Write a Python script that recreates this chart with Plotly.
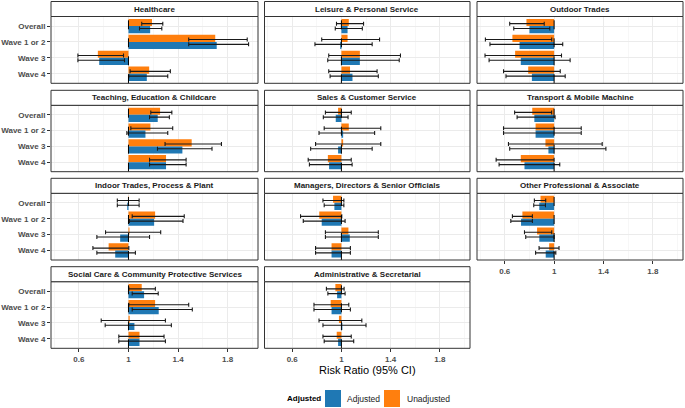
import plotly.graph_objects as go

categories = ["Overall", "Wave 1 or 2", "Wave 3", "Wave 4"]
panels = [
    "Healthcare", "Leisure & Personal Service", "Outdoor Trades",
    "Teaching, Education & Childcare", "Sales & Customer Service", "Transport & Mobile Machine",
    "Indoor Trades, Process & Plant", "Managers, Directors & Senior Officials", "Other Professional & Associate",
    "Social Care & Community Protective Services", "Administrative & Secretarial",
]

# Unadjusted risk ratios and 95% CI (per panel: Overall, Wave 1 or 2, Wave 3, Wave 4)
unadj_rr = [
    [1.19, 1.70, 0.753, 1.167], [1.06, 1.05, 1.15, 1.07], [0.776, 0.662, 0.684, 0.79],
    [1.255, 1.177, 1.51, 1.303], [0.973, 1.06, 1.014, 0.89], [0.823, 0.85, 0.93, 0.73],
    [0.997, 1.215, 1.008, 0.84], [0.932, 0.82, 1.057, 0.92], [0.89, 0.743, 0.862, 0.96],
    [1.107, 1.215, 1.01, 1.089], [0.951, 0.913, 0.98, 0.962],
]
unadj_lo = [
    [1.107, 1.486, 0.592, 1.013], [0.96, 0.84, 0.897, 0.897], [0.64, 0.443, 0.44, 0.59],
    [1.18, 1.019, 1.295, 1.17], [0.87, 0.86, 0.79, 0.73], [0.68, 0.59, 0.63, 0.53],
    [0.91, 1.03, 0.815, 0.713], [0.85, 0.668, 0.87, 0.79], [0.84, 0.662, 0.76, 0.878],
    [1.003, 1.003, 0.78, 0.922], [0.878, 0.777, 0.818, 0.85],
]
unadj_hi = [
    [1.277, 1.958, 0.96, 1.338], [1.18, 1.31, 1.48, 1.29], [0.92, 0.981, 1.06, 1.05],
    [1.35, 1.357, 1.75, 1.465], [1.08, 1.32, 1.32, 1.08], [0.98, 1.22, 1.39, 1.0],
    [1.086, 1.45, 1.26, 1.003], [1.02, 1.003, 1.30, 1.073], [0.932, 0.824, 0.981, 1.04],
    [1.217, 1.486, 1.298, 1.287], [1.022, 1.06, 1.166, 1.08],
]
# Adjusted risk ratios and 95% CI
adj_rr = [
    [1.175, 1.712, 0.764, 1.148], [1.05, 0.99, 1.15, 1.09], [0.80, 0.72, 0.73, 0.82],
    [1.236, 1.137, 1.435, 1.303], [0.954, 1.014, 0.973, 0.90], [0.84, 0.85, 0.954, 0.76],
    [0.99, 1.207, 0.933, 0.893], [0.943, 0.84, 1.068, 0.92], [0.88, 0.732, 0.88, 0.932],
    [1.126, 1.244, 1.048, 1.089], [0.965, 0.92, 1.008, 0.973],
]
adj_lo = [
    [1.089, 1.486, 0.592, 1.003], [0.95, 0.785, 0.889, 0.908], [0.673, 0.48, 0.473, 0.61],
    [1.17, 0.987, 1.234, 1.17], [0.853, 0.818, 0.75, 0.74], [0.70, 0.59, 0.64, 0.554],
    [0.91, 1.008, 0.745, 0.745], [0.86, 0.69, 0.87, 0.79], [0.835, 0.649, 0.77, 0.85],
    [1.03, 1.03, 0.812, 0.922], [0.89, 0.777, 0.85, 0.86],
]
adj_hi = [
    [1.269, 1.969, 0.968, 1.317], [1.17, 1.25, 1.47, 1.30], [0.965, 1.07, 1.13, 1.09],
    [1.33, 1.317, 1.674, 1.465], [1.054, 1.27, 1.25, 1.087], [1.008, 1.22, 1.42, 1.046],
    [1.086, 1.44, 1.17, 1.056], [1.02, 1.03, 1.30, 1.073], [0.93, 0.824, 1.0, 1.014],
    [1.24, 1.515, 1.346, 1.298], [1.03, 1.073, 1.20, 1.10],
]

x_tickvals = [0.6, 1, 1.4, 1.8]
x_ticktext = ["0.6", "1", "1.4", "1.8"]
x_minor = [0.4, 0.8, 1.2, 1.6, 2.0]

BLUE = "#1F78B4"
ORANGE = "#FF7F0E"
W, H = 685, 408
FONT = "Liberation Sans, Arial, sans-serif"

col_x = [(51, 258), (264.5, 470), (477, 683)]
row_y = [(16.5, 83.3), (105.3, 171.7), (193.3, 260), (281.7, 348.3)]
STRIP_H = 15


def px(x):
    return x / W


def py(y):
    return 1 - y / H


fig = go.Figure()
shapes = []
annotations = []
layout_axes = {}

pos = list(range(len(categories)))
for i, name in enumerate(panels):
    r, c = divmod(i, 3)
    k = i + 1
    xa = "x" if k == 1 else f"x{k}"
    ya = "y" if k == 1 else f"y{k}"
    x0, x1 = col_x[c]
    y0, y1 = row_y[r]

    bottom = i in (8, 9, 10)
    left = c == 0

    layout_axes["xaxis" if k == 1 else f"xaxis{k}"] = dict(
        domain=[px(x0), px(x1)], anchor=ya, range=[0.375, 2.045],
        tickvals=x_tickvals, ticktext=x_ticktext, showticklabels=bottom,
        ticks="outside" if bottom else "", ticklen=3, tickcolor="#333333", tickwidth=1,
        tickfont=dict(family=FONT, size=8, color="#4D4D4D", weight="bold"),
        showgrid=True, gridcolor="#EBEBEB", gridwidth=1,
        minor=dict(tickvals=x_minor, showgrid=True, gridcolor="#F2F2F2", gridwidth=0.6, ticks=""),
        zeroline=False, showline=False, fixedrange=True,
    )
    layout_axes["yaxis" if k == 1 else f"yaxis{k}"] = dict(
        domain=[py(y1), py(y0)], anchor=xa, range=[3.6, -0.6],
        tickvals=pos, ticktext=categories, showticklabels=left,
        ticks="outside" if left else "", ticklen=3, tickcolor="#333333", tickwidth=1,
        tickfont=dict(family=FONT, size=8, color="#4D4D4D", weight="bold"),
        showgrid=True, gridcolor="#EBEBEB", gridwidth=1,
        zeroline=False, showline=False, fixedrange=True,
    )

    ur, ul, uh = unadj_rr[i], unadj_lo[i], unadj_hi[i]
    ar, al, ah = adj_rr[i], adj_lo[i], adj_hi[i]

    fig.add_trace(go.Bar(
        orientation="h", y=[p - 0.225 for p in pos], x=[v - 1 for v in ur], base=1,
        width=0.45, marker=dict(color=ORANGE, line=dict(width=0)),
        name="Unadjusted", showlegend=False, xaxis=xa, yaxis=ya,
    ))
    fig.add_trace(go.Bar(
        orientation="h", y=[p + 0.225 for p in pos], x=[v - 1 for v in ar], base=1,
        width=0.45, marker=dict(color=BLUE, line=dict(width=0)),
        name="Adjusted", showlegend=False, xaxis=xa, yaxis=ya,
    ))
    fig.add_trace(go.Scatter(
        x=ur, y=[p - 0.15 for p in pos], mode="markers",
        marker=dict(size=1, color="rgba(0,0,0,0)"),
        error_x=dict(type="data", symmetric=False,
                     array=[h - v for h, v in zip(uh, ur)],
                     arrayminus=[v - l for v, l in zip(ur, ul)],
                     color="#1A1A1A", thickness=1.1, width=2),
        showlegend=False, xaxis=xa, yaxis=ya, hoverinfo="skip",
    ))
    fig.add_trace(go.Scatter(
        x=ar, y=[p + 0.15 for p in pos], mode="markers",
        marker=dict(size=1, color="rgba(0,0,0,0)"),
        error_x=dict(type="data", symmetric=False,
                     array=[h - v for h, v in zip(ah, ar)],
                     arrayminus=[v - l for v, l in zip(ar, al)],
                     color="#1A1A1A", thickness=1.1, width=2),
        showlegend=False, xaxis=xa, yaxis=ya, hoverinfo="skip",
    ))

    # dashed reference line at 1
    shapes.append(dict(type="line", xref=xa, yref="paper", x0=1, x1=1,
                       y0=py(y1), y1=py(y0), line=dict(color="black", width=1, dash="dash"),
                       layer="above"))
    # panel border
    shapes.append(dict(type="rect", xref="paper", yref="paper", x0=px(x0), x1=px(x1),
                       y0=py(y1), y1=py(y0), line=dict(color="#333333", width=1),
                       fillcolor="rgba(0,0,0,0)", layer="above"))
    # strip
    shapes.append(dict(type="rect", xref="paper", yref="paper", x0=px(x0), x1=px(x1),
                       y0=py(y0), y1=py(y0 - STRIP_H), line=dict(color="#333333", width=1),
                       fillcolor="white", layer="above"))
    annotations.append(dict(text=name, xref="paper", yref="paper",
                            x=px((x0 + x1) / 2), y=py(y0 - STRIP_H / 2),
                            showarrow=False, xanchor="center", yanchor="middle",
                            font=dict(family=FONT, size=8, color="#1A1A1A", weight="bold")))

# axis title
annotations.append(dict(text="Risk Ratio (95% CI)", xref="paper", yref="paper",
                        x=px(367), y=py(370), showarrow=False, xanchor="center", yanchor="middle",
                        font=dict(family=FONT, size=11, color="black")))

# legend (manual)
ly = 398.5
annotations.append(dict(text="Adjusted", xref="paper", yref="paper", x=px(285), y=py(ly),
                        showarrow=False, xanchor="left", yanchor="middle",
                        font=dict(family=FONT, size=8, color="black", weight="bold")))
shapes.append(dict(type="rect", xref="paper", yref="paper", x0=px(325), x1=px(341),
                   y0=py(ly + 8.5), y1=py(ly - 8.5), fillcolor=BLUE, line=dict(width=0)))
annotations.append(dict(text="Adjusted", xref="paper", yref="paper", x=px(345), y=py(ly),
                        showarrow=False, xanchor="left", yanchor="middle",
                        font=dict(family=FONT, size=8.5, color="#1A1A1A")))
shapes.append(dict(type="rect", xref="paper", yref="paper", x0=px(384), x1=px(400),
                   y0=py(ly + 8.5), y1=py(ly - 8.5), fillcolor=ORANGE, line=dict(width=0)))
annotations.append(dict(text="Unadjusted", xref="paper", yref="paper", x=px(405), y=py(ly),
                        showarrow=False, xanchor="left", yanchor="middle",
                        font=dict(family=FONT, size=8.5, color="#1A1A1A")))

fig.update_layout(
    width=W, height=H, margin=dict(l=0, r=0, t=0, b=0),
    paper_bgcolor="white", plot_bgcolor="white",
    barmode="overlay", showlegend=False,
    shapes=shapes, annotations=annotations,
    **layout_axes,
)

fig.write_html(
    "out.html",
    config={"displayModeBar": False, "staticPlot": True},
    post_script="document.body.style.margin='0';document.body.style.padding='0';"
                "document.documentElement.style.overflow='hidden';",
)
